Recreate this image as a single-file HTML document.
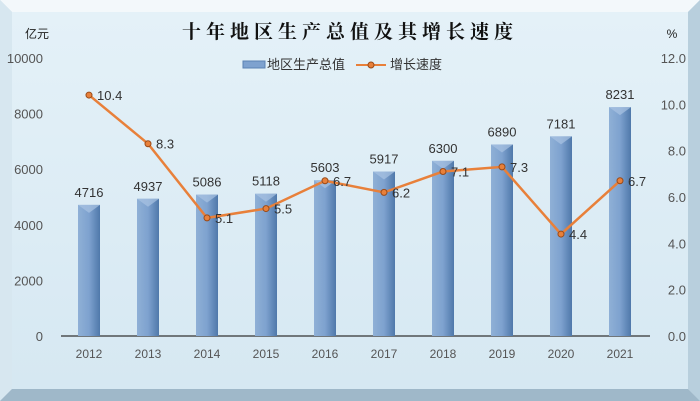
<!DOCTYPE html>
<html><head><meta charset="utf-8">
<style>
body{margin:0;width:700px;height:401px;overflow:hidden;background:#fff;}
svg{display:block;font-family:"Liberation Sans","Noto Sans CJK SC",sans-serif;}
</style></head>
<body>
<svg id="chart" width="700" height="401">
<defs>
<linearGradient id="bg" x1="0" y1="0" x2="0" y2="1">
<stop offset="0" stop-color="#e4f1f8"/><stop offset="1" stop-color="#d6e8f2"/>
</linearGradient>
<linearGradient id="bar" x1="0" y1="0" x2="1" y2="0">
<stop offset="0" stop-color="#8fb0d6"/><stop offset="0.5" stop-color="#7ea2cf"/><stop offset="1" stop-color="#4f78aa"/>
</linearGradient>
</defs>
<rect x="0" y="0" width="700" height="401" fill="#c9dce8"/>
<polygon points="0,0 700,0 688,12 12,12" fill="#f3f8fb"/>
<polygon points="0,0 12,12 12,389 0,401" fill="#d7e7f0"/>
<polygon points="700,0 700,401 688,389 688,12" fill="#b8cfdd"/>
<polygon points="0,401 12,389 688,389 700,401" fill="#9fb8c9"/>
<rect x="12" y="12" width="676" height="377" fill="url(#bg)"/>
<text x="350" y="38" text-anchor="middle" font-size="19" letter-spacing="5" font-family="'Noto Serif CJK SC',serif" font-weight="bold" fill="#111">十年地区生产总值及其增长速度</text>
<text x="37" y="38" text-anchor="middle" font-size="12" fill="#222">亿元</text>
<text x="672" y="38" text-anchor="middle" font-size="12" fill="#222">%</text>
<g>
<rect x="243" y="61" width="22" height="7" fill="#7ea2cf" stroke="#5b82b3"/>
<text x="267" y="69" font-size="13" fill="#333">地区生产总值</text>
<line x1="356" y1="65" x2="386" y2="65" stroke="#e8803a" stroke-width="2"/>
<circle cx="371" cy="65" r="3" fill="#e8803a" stroke="#9a4a18"/>
<text x="390" y="69" font-size="13" fill="#333">增长速度</text>
</g>
<g id="axes"></g><g id="bars"></g><g id="line"></g>
</svg>
<script>
const years=["2012","2013","2014","2015","2016","2017","2018","2019","2020","2021"];
const gdp=[4716,4937,5086,5118,5603,5917,6300,6890,7181,8231];
const growth=[10.4,8.3,5.1,5.5,6.7,6.2,7.1,7.3,4.4,6.7];
const leftTicks=[0,2000,4000,6000,8000,10000];
const rightTicks=[0,2,4,6,8,10,12];
const NS="http://www.w3.org/2000/svg";
const y0=336,y1=58;
const yL=v=>y0-(v/10000)*(y0-y1);
const yR=v=>y0-(v/12)*(y0-y1);
const xC=i=>89+i*59;
function mk(tag,attrs,parent,txt){const e=document.createElementNS(NS,tag);for(const k in attrs)e.setAttribute(k,attrs[k]);if(txt!==undefined)e.textContent=txt;parent.appendChild(e);return e;}
const ax=document.getElementById('axes'),bg=document.getElementById('bars'),lg=document.getElementById('line');
leftTicks.forEach(t=>{const e=mk('text',{x:43,y:yL(t)+5,'text-anchor':'end','font-size':13,fill:'#555'},ax,String(t));

});
rightTicks.forEach(t=>{const e=mk('text',{x:686,y:yR(t)+5,'text-anchor':'end','font-size':13,fill:'#555'},ax,t.toFixed(1));

});
const base=mk('line',{x1:61,y1:y0,x2:650,y2:y0,stroke:'#333','stroke-width':1.2},ax);


years.forEach((yr,i)=>{const e=mk('text',{x:xC(i),y:y0+22,'text-anchor':'middle','font-size':12,fill:'#555'},ax,yr);

});
gdp.forEach((v,i)=>{const top=yL(v),w=22;
const r=mk('rect',{x:xC(i)-w/2,y:top,width:w,height:y0-top,fill:'url(#bar)'},bg);


mk('polygon',{points:`${xC(i)-w/2},${top} ${xC(i)+w/2},${top} ${xC(i)},${top+8}`,fill:'#a9c3e2',opacity:0.7},bg);
const t=mk('text',{x:xC(i),y:top-8,'text-anchor':'middle','font-size':13,fill:'#333'},bg,String(v));

});
const pts=growth.map((v,i)=>xC(i)+','+yR(v)).join(' ');
const pl=mk('polyline',{points:pts,fill:'none',stroke:'#e8803a','stroke-width':2.5},lg);


growth.forEach((v,i)=>{const c=mk('circle',{cx:xC(i),cy:yR(v),r:3,fill:'#e8803a',stroke:'#9a4a18'},lg);


const t=mk('text',{x:xC(i)+8,y:yR(v)+5,'font-size':13,fill:'#333'},lg,v.toFixed(1));

});
</script>
</body></html>
